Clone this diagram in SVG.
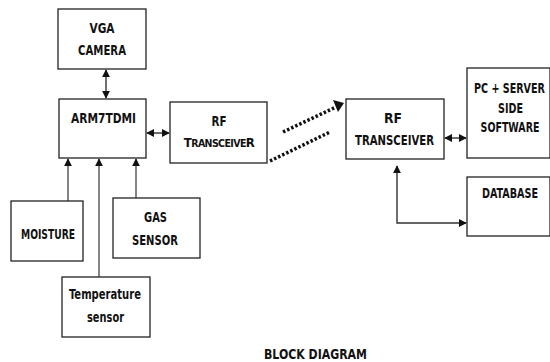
<svg xmlns="http://www.w3.org/2000/svg" width="550" height="362" viewBox="0 0 550 362">
<defs>
<style>
.box{fill:#fff;stroke:#222;stroke-width:1.3}
text{font-family:"DejaVu Sans Condensed","DejaVu Sans",sans-serif;font-weight:bold;font-size:14.5px;fill:#111;text-anchor:middle}
.ln{stroke:#333;stroke-width:1.4;fill:none}
.gl{stroke:#666;stroke-width:1.6;fill:none}
.dot{stroke:#111;stroke-width:3.5;stroke-dasharray:2.5 2;fill:none}
</style>
<marker id="ah" viewBox="0 0 10 10" refX="9" refY="5" markerWidth="8" markerHeight="8" orient="auto-start-reverse" markerUnits="userSpaceOnUse"><path d="M0,0 L10,5 L0,10 z" fill="#111"/></marker>
</defs>
<rect width="550" height="362" fill="#fff"/>
<g id="connectors">
<line class="ln" x1="106" y1="70" x2="106" y2="98" marker-start="url(#ah)" marker-end="url(#ah)"/>
<line class="ln" x1="147" y1="133" x2="169" y2="133" marker-start="url(#ah)" marker-end="url(#ah)"/>
<line class="gl" x1="68" y1="201" x2="68" y2="159" marker-end="url(#ah)"/>
<line class="gl" x1="99" y1="277" x2="99" y2="159" marker-end="url(#ah)"/>
<line class="gl" x1="136" y1="198" x2="136" y2="159" marker-end="url(#ah)"/>
<line class="ln" x1="445" y1="138" x2="466" y2="138" marker-start="url(#ah)" marker-end="url(#ah)"/>
<polyline class="ln" points="397,166 397,223 466,223" marker-start="url(#ah)" marker-end="url(#ah)"/>
<line class="dot" x1="283" y1="132" x2="336" y2="107"/>
<path d="M333,100 L344,103 L338,112 z" fill="#111"/>
<line class="dot" x1="270" y1="161" x2="330" y2="132"/>
</g>
<g id="vga"><rect class="box" x="58" y="9" width="88" height="60"/><text x="102" y="33" textLength="25" lengthAdjust="spacingAndGlyphs">VGA</text><text x="102" y="55" textLength="48" lengthAdjust="spacingAndGlyphs">CAMERA</text></g>
<g id="arm"><rect class="box" x="59" y="99" width="87" height="59"/><text x="103.5" y="123" textLength="65" lengthAdjust="spacingAndGlyphs">ARM7TDMI</text></g>
<g id="rf1"><rect class="box" x="170" y="102" width="97" height="61"/><text x="219" y="126" textLength="15" lengthAdjust="spacingAndGlyphs">RF</text><text x="219" y="147" style="font-size:13px;letter-spacing:-0.6px">T<tspan style="font-size:10.5px">RANSCEIVE</tspan>R</text></g>
<g id="rf2"><rect class="box" x="346" y="99" width="98" height="60"/><text x="393" y="123" textLength="18" lengthAdjust="spacingAndGlyphs">RF</text><text x="394.5" y="145" textLength="79" lengthAdjust="spacingAndGlyphs">TRANSCEIVER</text></g>
<g id="pc"><rect class="box" x="467" y="68" width="83" height="90"/><text transform="translate(509.5 93) scale(0.735 1)">PC + SERVER</text><text transform="translate(510.5 113) scale(0.735 1)">SIDE</text><text transform="translate(510 132) scale(0.725 1)">SOFTWARE</text></g>
<g id="db"><rect class="box" x="467" y="177" width="83" height="59"/><text transform="translate(510 198) scale(0.74 1)">DATABASE</text></g>
<g id="moisture"><rect class="box" x="11" y="201" width="72" height="60"/><text x="48" y="239" textLength="54" lengthAdjust="spacingAndGlyphs">MOISTURE</text></g>
<g id="gas"><rect class="box" x="113" y="198" width="87" height="60"/><text x="155.5" y="222" textLength="23" lengthAdjust="spacingAndGlyphs">GAS</text><text x="155" y="245" textLength="46" lengthAdjust="spacingAndGlyphs">SENSOR</text></g>
<g id="temp"><rect class="box" x="62" y="277" width="88" height="60"/><text x="105" y="299" textLength="72" lengthAdjust="spacingAndGlyphs">Temperature</text><text x="105.5" y="322" textLength="37" lengthAdjust="spacingAndGlyphs">sensor</text></g>
<g id="title"><text x="315.5" y="359" textLength="103" lengthAdjust="spacingAndGlyphs">BLOCK DIAGRAM</text></g>
</svg>
